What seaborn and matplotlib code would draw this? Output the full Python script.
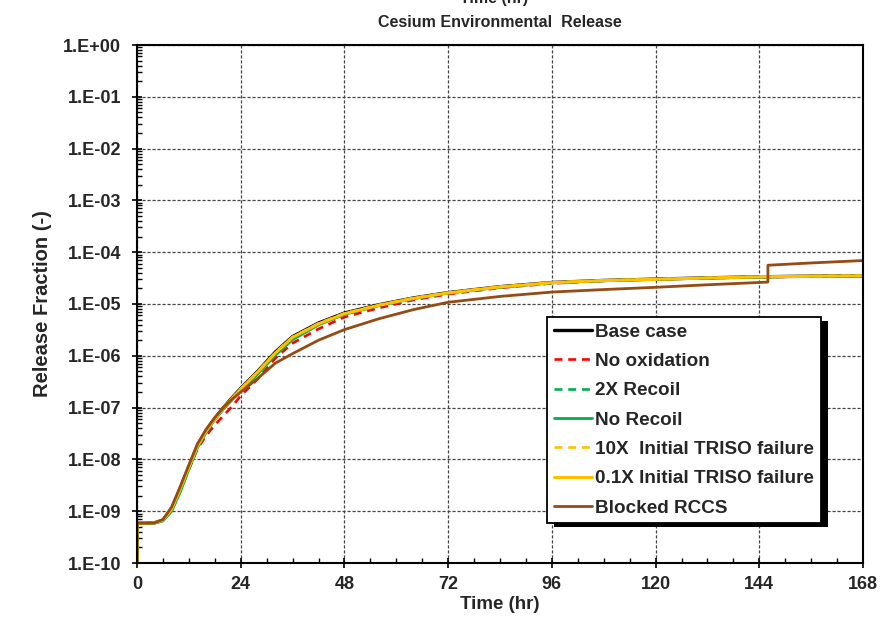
import numpy as np
import pandas as pd
import matplotlib
matplotlib.use("Agg")
import matplotlib.pyplot as plt
import seaborn as sns
from matplotlib.ticker import FixedLocator, FixedFormatter, LogLocator, MultipleLocator, NullFormatter
from matplotlib.patches import Rectangle
from matplotlib.transforms import IdentityTransform

# ---------------- data ----------------
t_common = [0, 0, 2, 4, 6, 8, 10, 12, 14, 16, 18, 20, 22, 24, 28, 32, 36, 42, 48,
            56, 64, 72, 84, 96, 108, 120, 132, 144, 156, 168]

base_case = [1e-10, 5.9e-10, 5.9e-10, 5.95e-10, 6.7e-10, 1.1e-9, 2.7e-9, 7.2e-9, 1.85e-8,
             3.6e-8, 6.2e-8, 1.0e-7, 1.55e-7, 2.35e-7, 5.1e-7, 1.18e-6, 2.35e-6, 4.3e-6,
             6.7e-6, 9.7e-6, 1.31e-5, 1.66e-5, 2.16e-5, 2.6e-5, 2.85e-5, 3.02e-5, 3.2e-5,
             3.35e-5, 3.45e-5, 3.5e-5]
no_oxidation = [1e-10, 5.9e-10, 5.9e-10, 5.9e-10, 6.6e-10, 1.05e-9, 2.5e-9, 6.5e-9, 1.6e-8,
                2.9e-8, 4.6e-8, 7.0e-8, 1.05e-7, 1.7e-7, 3.6e-7, 9.0e-7, 1.75e-6, 3.3e-6,
                5.6e-6, 8.4e-6, 1.2e-5, 1.55e-5, 2.05e-5, 2.5e-5, 2.8e-5, 3.0e-5, 3.15e-5,
                3.3e-5, 3.4e-5, 3.45e-5]
recoil_2x = [1e-10, 5.9e-10, 5.9e-10, 5.9e-10, 6.5e-10, 1.0e-9, 2.4e-9, 6.5e-9, 1.7e-8,
             3.4e-8, 5.9e-8, 9.5e-8, 1.45e-7, 2.15e-7, 4.6e-7, 1.05e-6, 2.1e-6, 4.0e-6,
             6.4e-6, 9.4e-6, 1.28e-5, 1.63e-5, 2.12e-5, 2.57e-5, 2.83e-5, 3.0e-5, 3.18e-5,
             3.33e-5, 3.43e-5, 3.48e-5]
no_recoil = [1e-10, 5.9e-10, 5.9e-10, 5.9e-10, 6.5e-10, 1.0e-9, 2.35e-9, 6.4e-9, 1.68e-8,
             3.35e-8, 5.8e-8, 9.3e-8, 1.42e-7, 2.1e-7, 4.5e-7, 1.02e-6, 2.05e-6, 3.95e-6,
             6.3e-6, 9.3e-6, 1.27e-5, 1.62e-5, 2.11e-5, 2.56e-5, 2.82e-5, 3.0e-5, 3.17e-5,
             3.32e-5, 3.42e-5, 3.47e-5]
triso_10x = [1e-10, 5.95e-10, 5.95e-10, 6.0e-10, 6.8e-10, 1.1e-9, 2.7e-9, 7.2e-9, 1.85e-8,
             3.6e-8, 6.1e-8, 9.9e-8, 1.52e-7, 2.3e-7, 5.0e-7, 1.15e-6, 2.3e-6, 4.2e-6,
             6.6e-6, 9.6e-6, 1.3e-5, 1.65e-5, 2.15e-5, 2.6e-5, 2.85e-5, 3.02e-5, 3.2e-5,
             3.36e-5, 3.46e-5, 3.52e-5]
triso_01x = [1e-10, 5.9e-10, 5.9e-10, 5.95e-10, 6.7e-10, 1.1e-9, 2.7e-9, 7.1e-9, 1.82e-8,
             3.55e-8, 6.05e-8, 9.8e-8, 1.5e-7, 2.28e-7, 4.95e-7, 1.13e-6, 2.28e-6, 4.15e-6,
             6.5e-6, 9.5e-6, 1.29e-5, 1.64e-5, 2.14e-5, 2.58e-5, 2.84e-5, 3.0e-5, 3.18e-5,
             3.34e-5, 3.44e-5, 3.5e-5]

t_rccs = [0, 0, 2, 4, 6, 8, 10, 12, 14, 16, 18, 20, 22, 24, 28, 32, 36, 42, 48,
          56, 64, 72, 84, 96, 108, 120, 132, 146, 146, 156, 168]
blocked_rccs = [1e-10, 5.9e-10, 5.9e-10, 5.95e-10, 6.9e-10, 1.2e-9, 3.0e-9, 7.8e-9, 2.0e-8,
                3.8e-8, 6.4e-8, 1.0e-7, 1.45e-7, 2.0e-7, 3.7e-7, 7.2e-7, 1.1e-6, 2.0e-6,
                3.2e-6, 5.2e-6, 7.8e-6, 1.08e-5, 1.4e-5, 1.7e-5, 1.9e-5, 2.1e-5, 2.35e-5,
                2.65e-5, 5.6e-5, 6.2e-5, 6.9e-5]

labels = ["Base case", "No oxidation", "2X Recoil", "No Recoil",
          "10X  Initial TRISO failure", "0.1X Initial TRISO failure", "Blocked RCCS"]

x_ticks = [0, 24, 48, 72, 96, 120, 144, 168]
y_ticks = [1e-10, 1e-9, 1e-8, 1e-7, 1e-6, 1e-5, 1e-4, 1e-3, 1e-2, 1e-1, 1e0]
y_tick_labels = ["1.E-10", "1.E-09", "1.E-08", "1.E-07", "1.E-06", "1.E-05",
                 "1.E-04", "1.E-03", "1.E-02", "1.E-01", "1.E+00"]

# ---------------- style ----------------
sns.set_style("white")
plt.rcParams['font.family'] = ['Liberation Sans', 'DejaVu Sans']
plt.rcParams['font.weight'] = 'bold'
plt.rcParams['axes.labelweight'] = 'bold'
plt.rcParams['axes.titleweight'] = 'bold'

FS_TICK = 13
FS_LAB = 13.5
FS_TITLE = 11.5
FS_LEG = 13.6

fig = plt.figure(figsize=(8.94, 6.23), dpi=100)
ax = fig.add_axes([137/894, 60/623, 726/894, 518/623])

series = [
    (t_common, base_case, "#000000", "-", 2.4),
    (t_common, no_oxidation, "#FF0000", (0, (3, 2.2)), 1.9),
    (t_common, recoil_2x, "#00B050", (0, (3, 2.2)), 1.9),
    (t_common, no_recoil, "#00B050", "-", 2.0),
    (t_common, triso_10x, "#FFC000", (0, (3, 2.2)), 1.9),
    (t_common, triso_01x, "#FFC000", "-", 2.2),
    (t_rccs, blocked_rccs, "#964B14", "-", 2.0),
]

for (tt, vv, col, ls, lw), lab in zip(series, labels):
    df = pd.DataFrame({"t": tt, "v": vv})
    sns.lineplot(data=df, x="t", y="v", ax=ax, color=col, linestyle=ls, lw=lw,
                 label=lab, sort=False, estimator=None)

ax.set_yscale("log")
ax.set_xlim(0, 168)
ax.set_ylim(1e-10, 1e0)

ax.xaxis.set_major_locator(FixedLocator(x_ticks))
ax.xaxis.set_minor_locator(MultipleLocator(6))
ax.yaxis.set_major_locator(FixedLocator(y_ticks))
ax.yaxis.set_major_formatter(FixedFormatter(y_tick_labels))
ax.yaxis.set_minor_locator(LogLocator(base=10, subs=np.arange(2, 10), numticks=100))
ax.yaxis.set_minor_formatter(NullFormatter())

ax.tick_params(axis='both', which='major', labelsize=FS_TICK, direction='inout', length=7,
               width=1.2, color='black')
ax.tick_params(axis='y', which='major', pad=8)
ax.tick_params(axis='x', which='major', pad=6)
ax.tick_params(axis='both', which='minor', direction='in', length=3.5, width=1,
               color='black')
ax.tick_params(axis='x', which='both', bottom=True, top=False)
ax.tick_params(axis='y', which='both', left=True, right=False)
for lab in ax.get_xticklabels() + ax.get_yticklabels():
    lab.set_fontweight('bold')

ax.grid(True, which='major', linestyle=(0, (2.5, 1.5)), color='#444444', lw=0.9)
for sp in ax.spines.values():
    sp.set_color('black')
    sp.set_linewidth(1.5)

ax.set_xlabel("Time (hr)", fontsize=FS_LAB, fontweight='bold', labelpad=2)
ax.set_ylabel("Release Fraction (-)", fontsize=FS_LAB + 1, fontweight='bold', labelpad=8)
ax.set_title("Cesium Environmental  Release", fontsize=FS_TITLE, fontweight='bold', pad=13)
fig.text(0.553, 1.003, "Time (hr)", fontsize=FS_TITLE, fontweight='bold', ha='center', va='center')

leg = ax.legend(loc='lower left', bbox_to_anchor=(0.565, 0.077), frameon=True,
                fancybox=False, edgecolor='black', framealpha=1,
                prop={'weight': 'bold', 'size': FS_LEG}, handlelength=2.0,
                handletextpad=0.2, labelspacing=0.64, borderpad=0.35, borderaxespad=0)
leg.get_frame().set_linewidth(1.3)
leg.set_zorder(10)

fig.canvas.draw()
bb = leg.get_window_extent()
shadow = Rectangle((bb.x0 + 7, bb.y0 - 4), bb.width, bb.height, transform=IdentityTransform(),
                   facecolor='black', edgecolor='none', zorder=9, clip_on=False)
ax.add_artist(shadow)

fig.savefig("out.png", dpi=100)
